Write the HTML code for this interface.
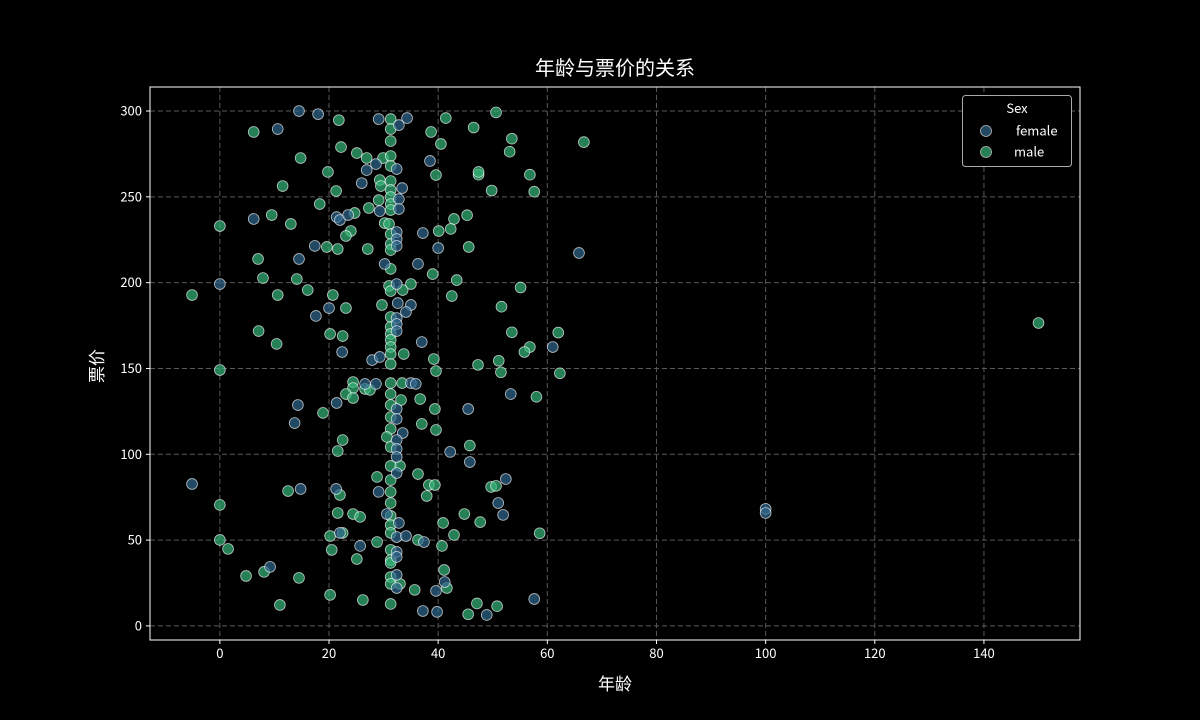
<!DOCTYPE html>
<html><head><meta charset="utf-8">
<style>
html,body{margin:0;padding:0;background:#000;}
svg{display:block;font-family:"WenQuanYi Zen Hei","Noto Sans CJK SC","Liberation Sans",sans-serif;}
</style></head>
<body>
<svg id="chart" width="1200" height="720" viewBox="0 0 1200 720" xmlns="http://www.w3.org/2000/svg">
<rect x="0" y="0" width="1200" height="720" fill="#000"/>
<g id="grid"></g>
<g id="points"></g>
<rect x="150" y="87" width="930" height="553" fill="none" stroke="#fff" stroke-width="1"/>
<g id="ticks"></g>
<text x="615" y="75" fill="#fff" font-size="20" text-anchor="middle">年龄与票价的关系</text>
<text x="615" y="690" fill="#fff" font-size="17" text-anchor="middle">年龄</text>
<text x="0" y="0" fill="#fff" font-size="17" text-anchor="middle" transform="translate(103,366) rotate(-90)">票价</text>
<g>
<rect x="962.5" y="95.5" width="109" height="71" rx="3" fill="#000" stroke="#aaa" stroke-width="1"/>
<text x="1017" y="113" fill="#fff" font-size="13" text-anchor="middle">Sex</text>
<circle cx="986" cy="131" r="5.5" fill="#224963" stroke="#bbb" stroke-width="0.8"/>
<text x="1016" y="135.5" fill="#fff" font-size="13">female</text>
<circle cx="986" cy="152" r="5.5" fill="#258055" stroke="#bbb" stroke-width="0.8"/>
<text x="1014" y="156.5" fill="#fff" font-size="13">male</text>
</g>
</svg>
<script>
const xTicks = [0,20,40,60,80,100,120,140];
const yTicks = [0,50,100,150,200,250,300];
const femaleAge = [14.5,18.0,10.6,29.1,34.3,32.8,38.5,28.6,26.9,32.4,26.0,33.4,32.8,29.3,32.8,6.2,21.4,22.0,23.5,32.4,37.2,32.4,17.4,14.5,40.0,32.4,30.2,36.3,0,32.4,32.6,35.0,34.1,20.0,17.6,32.4,32.4,32.4,37.0,22.4,27.9,29.3,26.6,28.6,35.0,35.9,14.3,21.4,13.7,32.4,32.4,33.5,32.4,32.4,32.4,42.2,32.4,-5.1,14.8,21.3,29.1,30.6,32.8,22.0,32.4,34.1,37.4,25.7,32.4,32.4,9.2,32.4,32.4,39.6,41.2,37.2,39.8,65.8,61.0,53.3,45.5,45.8,52.4,51.0,51.9,57.6,48.9,100,100];
const femaleFare = [300.0,298.2,289.5,295.3,295.9,291.8,270.9,269.1,265.6,266.2,258.0,255.1,248.7,241.7,242.9,237.1,238.2,236.5,239.4,229.5,228.9,225.4,221.4,213.8,220.2,221.4,210.9,210.9,199.2,199.2,188.1,187.0,182.9,185.2,180.6,179.4,175.9,171.8,165.4,159.6,154.9,156.7,141.0,141.0,141.5,141.0,128.7,129.9,118.2,126.4,120.6,112.4,108.3,103.1,98.4,101.4,89.1,82.7,79.8,79.8,78.1,65.2,60.0,54.2,51.8,52.4,48.9,46.6,43.1,40.2,34.4,29.7,22.1,20.4,25.6,8.7,8.2,217.3,162.5,135.1,126.4,95.5,85.6,71.6,64.7,15.7,6.4,68.2,65.8];
const maleAge = [21.8,31.3,31.3,31.3,41.4,38.7,40.5,6.2,22.2,25.1,26.9,29.9,31.3,14.8,31.3,19.8,39.6,29.3,31.3,29.5,11.5,21.3,31.3,31.3,29.1,18.3,27.3,31.3,31.3,24.7,9.5,13.0,0,30.2,31.0,42.9,24.0,23.1,31.3,40.1,42.3,19.6,21.6,27.1,31.3,31.3,7.0,31.3,39.0,7.9,14.1,43.4,-5.1,10.6,16.1,20.7,31.0,31.3,33.5,35.0,42.5,29.7,23.1,31.3,31.3,31.3,31.3,7.1,20.2,22.5,10.4,31.3,31.3,33.7,39.2,31.3,0,39.6,24.4,24.4,23.1,24.4,26.6,27.5,31.3,33.4,31.3,33.2,36.7,31.3,18.9,39.4,31.3,37.0,39.6,31.3,30.6,22.5,21.6,31.3,33.0,31.3,36.3,31.3,28.8,38.3,39.4,37.9,12.5,22.0,31.3,31.3,0,21.6,24.4,25.7,31.3,31.3,40.9,42.9,20.2,22.5,31.3,28.8,36.3,40.7,0,1.5,20.5,31.3,25.1,31.3,31.3,41.1,8.1,4.8,14.5,31.3,31.3,33.0,41.6,35.7,20.2,26.2,11.0,31.3,46.5,50.6,53.5,53.1,66.7,47.4,47.4,56.8,49.8,57.6,45.3,45.6,55.1,51.6,53.5,62.0,56.8,55.8,47.3,51.1,51.5,62.3,58.0,45.8,49.7,50.6,44.8,47.7,58.6,47.1,50.8,45.5,150];
const maleFare = [294.7,295.3,289.5,282.5,295.9,287.8,280.8,287.8,279.0,275.5,272.6,272.6,273.8,272.6,268.0,264.5,262.7,259.8,259.2,256.3,256.3,253.4,254.0,249.9,248.1,245.8,243.5,245.8,242.3,240.6,239.4,234.2,233.0,234.7,234.2,237.1,230.1,227.2,228.3,230.1,231.3,220.8,219.6,219.6,222.5,219.0,213.8,208.0,205.0,202.7,202.1,201.5,192.8,192.8,195.7,192.8,198.1,195.1,195.7,199.2,192.2,187.0,185.2,180.0,174.2,170.1,166.6,171.8,170.1,168.9,164.3,162.5,158.4,158.4,155.5,152.6,149.1,148.5,142.1,138.6,135.1,132.8,138.1,137.5,141.5,141.5,135.1,131.6,132.2,128.7,124.1,126.4,121.7,117.7,114.2,114.8,110.1,108.3,101.9,104.3,93.2,93.2,88.5,85.0,86.8,82.1,82.1,75.7,78.6,76.3,78.1,71.6,70.5,65.8,65.2,63.5,64.1,58.8,60.0,53.0,52.4,54.2,54.2,48.9,50.1,46.6,50.1,44.9,44.3,44.3,39.0,38.4,36.7,32.6,31.5,29.1,28.0,28.5,24.5,24.5,22.1,21.0,18.1,15.1,12.2,12.8,290.4,299.2,283.9,276.3,281.9,262.9,264.5,262.9,253.7,253.0,239.3,220.8,197.2,186.0,171.1,170.9,162.5,159.6,152.1,154.5,147.8,147.2,133.5,105.1,81.0,81.6,65.2,60.5,54.0,13.1,11.5,6.8,176.5];

const X0=150,X1=1080,Y0=640,Y1=87;
const xMin=-12.8,xMax=157.6,yMin=-8.2,yMax=314;
function sx(v){return X0+(v-xMin)/(xMax-xMin)*(X1-X0);}
function sy(v){return Y0-(v-yMin)/(yMax-yMin)*(Y0-Y1);}
const NS="http://www.w3.org/2000/svg";
const grid=document.getElementById('grid'),ticks=document.getElementById('ticks'),pts=document.getElementById('points');
function mk(tag,attrs,parent){const e=document.createElementNS(NS,tag);for(const k in attrs)e.setAttribute(k,attrs[k]);parent.appendChild(e);return e;}
xTicks.forEach(t=>{
  const x=sx(t);
  const g=mk('line',{x1:x,x2:x,y1:Y1,y2:Y0,stroke:'#5a5a5a','stroke-dasharray':'5,3','stroke-width':1},grid);
  
  
  const tk=mk('line',{x1:x,x2:x,y1:Y0,y2:Y0+4,stroke:'#fff'},ticks);
  
  
  const tl=mk('text',{x:x,y:Y0+18,fill:'#fff','font-size':13,'text-anchor':'middle'},ticks);
  tl.textContent=t;
  
  
});
yTicks.forEach(t=>{
  const y=sy(t);
  const g=mk('line',{x1:X0,x2:X1,y1:y,y2:y,stroke:'#5a5a5a','stroke-dasharray':'5,3','stroke-width':1},grid);
  
  
  const tk=mk('line',{x1:X0-4,x2:X0,y1:y,y2:y,stroke:'#fff'},ticks);
  
  
  const tl=mk('text',{x:X0-8,y:y+4.5,fill:'#fff','font-size':13,'text-anchor':'end'},ticks);
  tl.textContent=t;
  
  
});
function drawSeries(ages,fares,color,name){
  ages.forEach((a,i)=>{
    const c=mk('circle',{cx:sx(a),cy:sy(fares[i]),r:5.4,fill:color,'fill-opacity':0.7,stroke:'#fff','stroke-opacity':0.7,'stroke-width':0.8},pts);
    
    
  });
}
drawSeries(maleAge,maleFare,'#35b779','point-male');
drawSeries(femaleAge,femaleFare,'#31688e','point-female');
</script>
</body></html>
